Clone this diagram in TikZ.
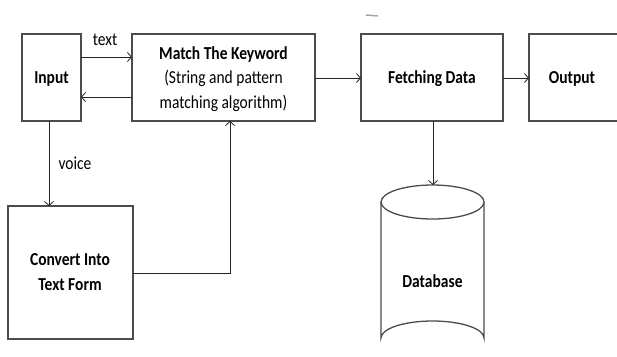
\documentclass[tikz,border=0pt]{standalone}
\usepackage{fontspec}
\usepackage{graphicx}
\setmainfont{Carlito}
\usetikzlibrary{arrows.meta,shapes.geometric}
\newcommand{\tallt}[1]{\scalebox{1}[1.18]{\begin{tabular}{@{}c@{}}#1\end{tabular}}}
\begin{document}
\begin{tikzpicture}[x=1pt,y=-1pt,
  box/.style={draw=black!70,line width=1.3pt,fill=white},
  lbl/.style={font=\fontsize{15.5}{21}\selectfont\bfseries,align=center,inner sep=0pt},
  tag/.style={font=\fontsize{15.5}{21}\selectfont,inner sep=0pt},
  arr/.style={draw=black!85,line width=0.8pt,-{Straight Barb[length=4pt,width=9pt]}}]
\useasboundingbox (0,0) rectangle (617,356);
% boxes
\draw[box] (22,34) rectangle (81,121);
\node[lbl] (input) at (51.5,79) {\tallt{Input}};
\coordinate (inR1) at (81,57);
\coordinate (inR2) at (81,97);
\coordinate (inB) at (49,121);
\draw[box] (132,34) rectangle (315,121);
\node[lbl] (match) at (223.5,79) {\tallt{Match The Keyword\\\mdseries(String and pattern\\\mdseries matching algorithm)}};
\coordinate (mL1) at (132,57);
\coordinate (mL2) at (132,97);
\coordinate (mR) at (315,78);
\coordinate (mB) at (230,121);
\draw[box] (361,34) rectangle (503,121);
\node[lbl] (fetch) at (432,79) {\tallt{Fetching Data}};
\coordinate (fL) at (361,78);
\coordinate (fR) at (503,78);
\coordinate (fB) at (433,121);
\draw[box] (529,34) rectangle (619,121);
\node[lbl] (output) at (572,79) {\tallt{Output}};
\coordinate (oL) at (529,78);
\draw[box] (8,206) rectangle (133,339);
\node[lbl] (conv) at (70,273) {\tallt{Convert Into\\Text Form}};
\coordinate (cT) at (49,206);
\coordinate (cR) at (133,273);
\coordinate (corner) at (230,273);
% database cylinder
\draw[box] (381,202) -- (381,338) arc[start angle=180,end angle=360,x radius=51.5,y radius=17] -- (484,202);
\draw[box] (432.5,202) ellipse[x radius=51.5,y radius=17];
\coordinate (dbT) at (433,185);
\node[lbl] (db) at (432.5,283) {\tallt{Database}};
% stray mark
\draw[black!35,line width=1.5pt] (366,15) -- (378,16);
% connectors
\draw[arr] (inR1) -- (mL1);
\draw[arr] (mL2) -- (inR2);
\node[tag] (tx) at (105,41) {\tallt{text}};
\draw[arr] (inB) -- (cT);
\node[tag] (vc) at (75,165) {\tallt{voice}};
\draw[arr] (cR) -- (corner) -- (mB);
\draw[arr] (mR) -- (fL);
\draw[arr] (fR) -- (oL);
\draw[arr] (fB) -- (dbT);
\end{tikzpicture}
\end{document}
